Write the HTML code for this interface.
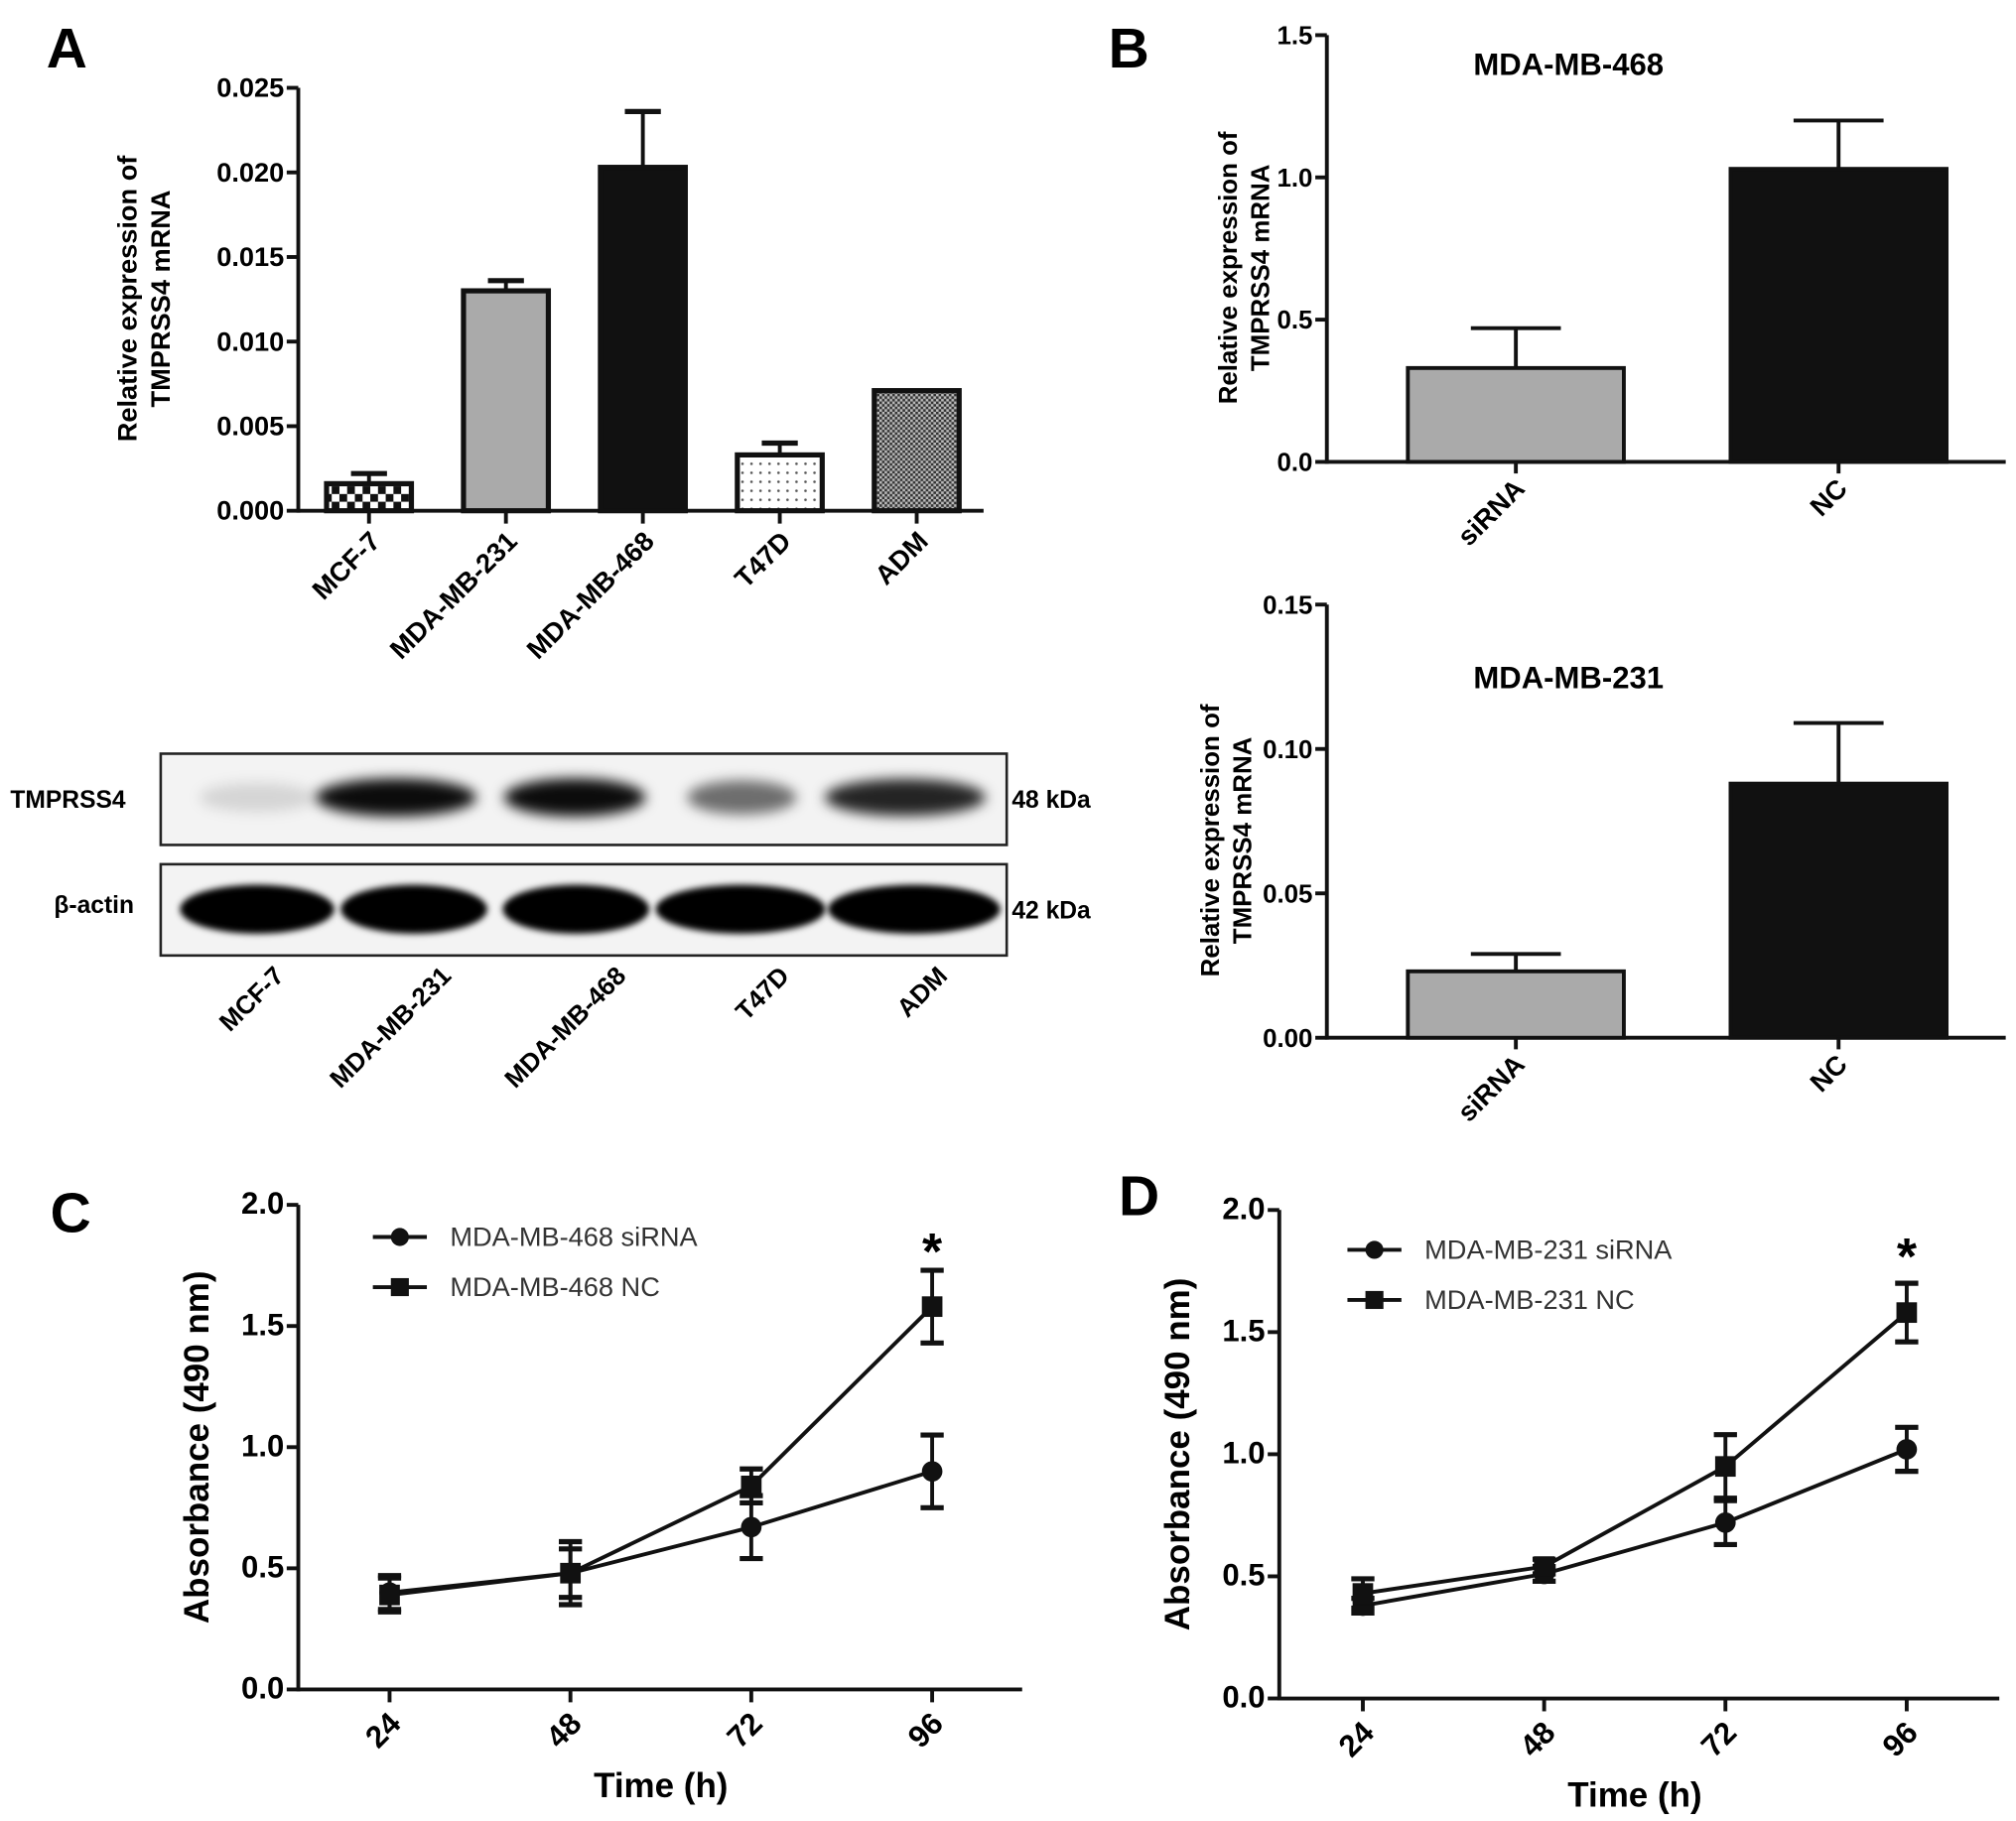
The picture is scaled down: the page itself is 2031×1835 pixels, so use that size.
<!DOCTYPE html>
<html><head><meta charset="utf-8">
<style>
html,body{margin:0;padding:0;background:#fff;}
svg{display:block;font-family:"Liberation Sans",Arial,sans-serif;}
</style></head>
<body>
<svg id="fig" width="2031" height="1835" viewBox="0 0 1568 1416" xmlns="http://www.w3.org/2000/svg">
<defs>
  <pattern id="checker" width="12" height="12" patternUnits="userSpaceOnUse">
    <rect width="12" height="12" fill="#fff"/><rect width="6" height="6" fill="#111"/><rect x="6" y="6" width="6" height="6" fill="#111"/>
  </pattern>
  <pattern id="dots" width="7" height="7" patternUnits="userSpaceOnUse">
    <rect width="7" height="7" fill="#fff"/><circle cx="3.5" cy="3.5" r="1" fill="#555"/>
  </pattern>
  <pattern id="hatch" width="4" height="4" patternUnits="userSpaceOnUse">
    <rect width="4" height="4" fill="#bbb"/><rect width="2" height="2" fill="#333"/><rect x="2" y="2" width="2" height="2" fill="#333"/>
  </pattern>
  <filter id="blur" x="-30%" y="-80%" width="160%" height="260%"><feGaussianBlur stdDeviation="5"/></filter>
  <filter id="blur2" x="-30%" y="-80%" width="160%" height="260%"><feGaussianBlur stdDeviation="2.5"/></filter>
</defs>
</svg>
<script>
// ---------- Panel A data ----------
const aCategories = ["MCF-7","MDA-MB-231","MDA-MB-468","T47D","ADM"];
const aValues = [0.0016,0.0130,0.0203,0.0033,0.0071];
const aErrors = [0.0006,0.0006,0.0033,0.0007,0.0000];
const aTicks = ["0.000","0.005","0.010","0.015","0.020","0.025"];
// ---------- Panel B data ----------
const bCategories = ["siRNA","NC"];
const b468Values = [0.33,1.03];
const b468Errors = [0.14,0.17];
const b468Ticks = ["0.0","0.5","1.0","1.5"];
const b231Values = [0.023,0.088];
const b231Errors = [0.006,0.021];
const b231Ticks = ["0.00","0.05","0.10","0.15"];
// ---------- Panel C/D data ----------
const timeLabels = ["24","48","72","96"];
const absTicks = ["0.0","0.5","1.0","1.5","2.0"];
const c468siRNA = [0.40,0.48,0.67,0.90];
const c468siRNAErr = [0.07,0.13,0.13,0.15];
const c468NC = [0.39,0.48,0.84,1.58];
const c468NCErr = [0.07,0.10,0.07,0.15];
const d231siRNA = [0.38,0.51,0.72,1.02];
const d231siRNAErr = [0.03,0.03,0.09,0.09];
const d231NC = [0.43,0.54,0.95,1.58];
const d231NCErr = [0.06,0.03,0.13,0.12];
// blot band intensities (0-1)
const blotTop = [0.12,0.95,0.95,0.55,0.85];
const blotActin = [1,1,1,1,1];

const NS="http://www.w3.org/2000/svg";
const svg=document.getElementById('fig');
function el(tag,attrs,parent){const e=document.createElementNS(NS,tag);for(const k in attrs)e.setAttribute(k,attrs[k]);(parent||svg).appendChild(e);return e;}
function txt(s,attrs,parent){const e=el('text',attrs,parent);e.textContent=s;return e;}

function linear(d0,d1,r0,r1){return v=>r0+(v-d0)/(d1-d0)*(r1-r0);}

[["A",52,52],["B",878,52],["C",55,958],["D",886,945]].forEach(([l,x,y])=>{
  const t=txt(l,{x:x,y:y,'font-size':44,'font-weight':'bold','text-anchor':'middle'});
  
  
});

function yAxis(g,x,y0,y1,ticks,tmin,tmax,fs){
  const sy=linear(tmin,tmax,y0,y1);
  const ax=el('line',{x1:x,y1:y0+1.5,x2:x,y2:y1,stroke:'#111','stroke-width':3},g);
  
  
  ticks.forEach(t=>{
    const y=sy(parseFloat(t));
    el('line',{x1:x-9,y1:y,x2:x,y2:y,stroke:'#111','stroke-width':3},g);
    const tl=txt(t,{x:x-11,y:y+7,'font-size':fs,'font-weight':'bold','text-anchor':'end'},g);
    
    
  });
  return sy;
}
function xAxis(g,x0,x1,y){
  const ax=el('line',{x1:x0,y1:y,x2:x1,y2:y,stroke:'#111','stroke-width':3},g);
  
  
}
function rotLabel(g,s,x,y,fs,name){
  const t=txt(s,{x:x,y:y,'font-size':fs,'font-weight':'bold','text-anchor':'end',transform:`rotate(-45 ${x} ${y})`},g);
  
  
}
function yTitle(g,lines,x,cy,fs,name){
  lines.forEach((s,i)=>{
    const xx=x+i*(fs+5);
    const t=txt(s,{x:xx,y:cy,'font-size':fs,'font-weight':'bold','text-anchor':'middle',transform:`rotate(-90 ${xx} ${cy})`},g);
    
    
  });
}

// ================= Panel A =================
(function(){
  const g=el('g',{});
  
  
  const sy=yAxis(g,232,397,68,aTicks,0,0.025,21);
  xAxis(g,232,765,397);
  const fills=['url(#checker)','#aaa','#111','url(#dots)','url(#hatch)'];
  const x0=287,step=106.5,hw=33;
  aCategories.forEach((c,i)=>{
    const cx=x0+i*step;
    const top=sy(aValues[i]);
    const eb=sy(aValues[i]+aErrors[i]);
    if(aErrors[i]>0){
      el('line',{x1:cx,y1:top,x2:cx,y2:eb,stroke:'#111','stroke-width':3},g);
      el('line',{x1:cx-14,y1:eb,x2:cx+14,y2:eb,stroke:'#111','stroke-width':4},g);
    }
    const r=el('rect',{x:cx-hw,y:top,width:2*hw,height:397-top,fill:fills[i],stroke:'#111','stroke-width':4},g);
    
    
    el('line',{x1:cx,y1:397,x2:cx,y2:407,stroke:'#111','stroke-width':3},g);
    rotLabel(g,c,cx+10,422,21,'x-tick-label');
  });
  yTitle(g,["Relative expression of","TMPRSS4 mRNA"],106,232,21,'y-axis-title');
})();

// ================= Western blot =================
(function(){
  const g=el('g',{});
  
  
  const b1=el('rect',{x:125,y:586,width:658,height:71,fill:'#f3f3f3',stroke:'#222','stroke-width':2},g);
  
  
  const b2=el('rect',{x:125,y:672,width:658,height:71,fill:'#f3f3f3',stroke:'#222','stroke-width':2},g);
  
  
  const topBands=[[200,90],[308,125],[447,110],[577,85],[704,125]];
  topBands.forEach(([cx,w],i)=>{
    const v=blotTop[i];
    const e=el('ellipse',{cx:cx,cy:620,rx:w/2,ry:11+4*v,fill:'#000','fill-opacity':v,filter:'url(#blur)'},g);
    
    
  });
  const actBands=[[200,120],[322,114],[448,114],[576,132],[711,134]];
  actBands.forEach(([cx,w],i)=>{
    const e=el('ellipse',{cx:cx,cy:707,rx:w/2,ry:19,fill:'#000','fill-opacity':blotActin[i],filter:'url(#blur2)'},g);
    
    
  });
  [["TMPRSS4",8,628,'start','protein-label'],["β-actin",42,710,'start','protein-label'],["48 kDa",787,628,'start','kda-label'],["42 kDa",787,714,'start','kda-label']].forEach(([s,x,y,a,n])=>{
    const t=txt(s,{x:x,y:y,'font-size':19,'font-weight':'bold','text-anchor':a},g);
    
    
  });
  const lx=[222,352,488,615,738];
  aCategories.forEach((c,i)=>rotLabel(g,c,lx[i],760,20,'blot-lane-label'));
})();

// ================= Panel B =================
function panelB(values,errors,ticks,tmax,y0,y1,title,titleY,tname,titleX){
  const g=el('g',{});
  
  
  const sy=yAxis(g,1032,y0,y1,ticks,0,tmax,20);
  xAxis(g,1032,1560,y0);
  const cx=[1179,1430],hw=84;
  const fills=['#aaa','#111'];
  bCategories.forEach((c,i)=>{
    const top=sy(values[i]),eb=sy(values[i]+errors[i]);
    el('line',{x1:cx[i],y1:top,x2:cx[i],y2:eb,stroke:'#111','stroke-width':3},g);
    el('line',{x1:cx[i]-35,y1:eb,x2:cx[i]+35,y2:eb,stroke:'#111','stroke-width':3},g);
    const r=el('rect',{x:cx[i]-hw,y:top,width:2*hw,height:y0-top,fill:fills[i],stroke:'#111','stroke-width':3},g);
    
    
    el('line',{x1:cx[i],y1:y0,x2:cx[i],y2:y0+9,stroke:'#111','stroke-width':3},g);
    rotLabel(g,c,cx[i]+8,y0+22,21,'x-tick-label');
  });
  const t=txt(title,{x:1220,y:titleY,'font-size':24,'font-weight':'bold','text-anchor':'middle'},g);
  
  
  yTitle(g,["Relative expression of","TMPRSS4 mRNA"],titleX,(y0+y1)/2+15,20,'y-axis-title');
}
panelB(b468Values,b468Errors,b468Ticks,1.5,359,27,"MDA-MB-468",58,'panel-b-468-chart',962);
panelB(b231Values,b231Errors,b231Ticks,0.15,807,470,"MDA-MB-231",535,'panel-b-231-chart',948);

// ================= Panel C / D =================
function lineChart(ax,y0,y1,xend,xs,s1,e1,s2,e2,leg1,leg2,legY,legX,name){
  const g=el('g',{});
  
  
  const sy=yAxis(g,ax,y0,y1,absTicks,0,2,24);
  xAxis(g,ax,xend,y0);
  const sx=linear(0,3,xs[0],xs[1]);
  timeLabels.forEach((t,i)=>{
    const x=sx(i);
    el('line',{x1:x,y1:y0,x2:x,y2:y0+10,stroke:'#111','stroke-width':3},g);
    rotLabel(g,t,x+10,y0+28,24,'x-tick-label');
  });
  [[s1,e1,'circle','series-sirna'],[s2,e2,'square','series-nc']].forEach(([s,e,m,n])=>{
    const pts=s.map((v,i)=>sx(i)+','+sy(v)).join(' ');
    const pl=el('polyline',{points:pts,fill:'none',stroke:'#111','stroke-width':3},g);
    
    
    s.forEach((v,i)=>{
      const x=sx(i),yt=sy(v+e[i]),yb=sy(v-e[i]);
      el('line',{x1:x,y1:yt,x2:x,y2:yb,stroke:'#111','stroke-width':3},g);
      el('line',{x1:x-9,y1:yt,x2:x+9,y2:yt,stroke:'#111','stroke-width':4},g);
      el('line',{x1:x-9,y1:yb,x2:x+9,y2:yb,stroke:'#111','stroke-width':4},g);
      const mk=m==='circle'?el('circle',{cx:x,cy:sy(v),r:8,fill:'#111'},g):el('rect',{x:x-8,y:sy(v)-8,width:16,height:16,fill:'#111'},g);
      
      
    });
  });
  const star=txt('*',{x:sx(3),y:y1+50,'font-size':40,'font-weight':'bold','text-anchor':'middle'},g);
  
  
  [[leg1,'circle',legY],[leg2,'square',legY+39]].forEach(([s,m,y])=>{
    const lg=el('g',{},g);
    
    
    el('line',{x1:legX,y1:y,x2:legX+42,y2:y,stroke:'#111','stroke-width':3},lg);
    if(m==='circle')el('circle',{cx:legX+21,cy:y,r:7,fill:'#111'},lg);
    else el('rect',{x:legX+14,y:y-7,width:14,height:14,fill:'#111'},lg);
    txt(s,{x:legX+60,y:y+7,'font-size':21,fill:'#333'},lg);
  });
  const yt=txt('Absorbance (490 nm)',{x:ax-70,y:(y0+y1)/2,'font-size':27,'font-weight':'bold','text-anchor':'middle',transform:`rotate(-90 ${ax-70} ${(y0+y1)/2})`},g);
  
  
  const xt=txt('Time (h)',{x:(xs[0]+xs[1])/2,y:y0+84,'font-size':27,'font-weight':'bold','text-anchor':'middle'},g);
  
  
}
lineChart(232,1314,937,795,[303,725],c468siRNA,c468siRNAErr,c468NC,c468NCErr,"MDA-MB-468 siRNA","MDA-MB-468 NC",962,290,'panel-c-line-chart');
lineChart(995,1321,941,1555,[1060,1483],d231siRNA,d231siRNAErr,d231NC,d231NCErr,"MDA-MB-231 siRNA","MDA-MB-231 NC",972,1048,'panel-d-line-chart');
</script>
</body></html>
